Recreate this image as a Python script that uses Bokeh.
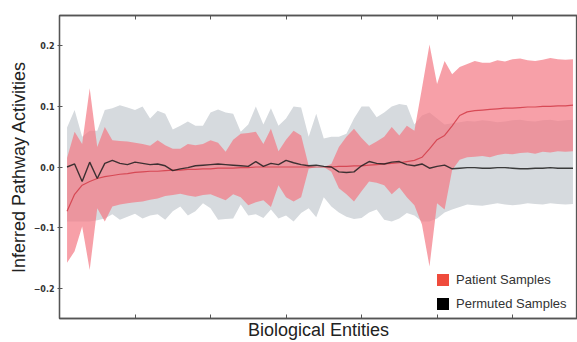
from bokeh.plotting import figure
from bokeh.models import Range1d, FixedTicker, LinearAxis, Legend, LegendItem
from bokeh.embed import file_html
from bokeh.resources import INLINE

# ---- data ----
entity = list(range(1, 69))

perm_hi = [0.065, 0.094, 0.050, 0.060, 0.060, 0.094, 0.097, 0.102, 0.098, 0.094,
           0.100, 0.080, 0.093, 0.088, 0.062, 0.068, 0.075, 0.068, 0.068, 0.090,
           0.095, 0.090, 0.088, 0.058, 0.070, 0.100, 0.070, 0.097, 0.068, 0.080,
           0.100, 0.098, 0.050, 0.088, 0.047, 0.050, 0.050, 0.055, 0.080, 0.100,
           0.100, 0.082, 0.090, 0.100, 0.104, 0.102, 0.070, 0.085, 0.090, 0.080,
           0.070, 0.072, 0.074, 0.076, 0.075, 0.077, 0.076, 0.074, 0.075, 0.077,
           0.078, 0.076, 0.075, 0.077, 0.078, 0.076, 0.077, 0.078]

perm_lo = [-0.090, -0.090, -0.090, -0.090, -0.088, -0.085, -0.078, -0.087, -0.082, -0.077,
           -0.085, -0.080, -0.078, -0.087, -0.073, -0.065, -0.080, -0.073, -0.060, -0.068,
           -0.087, -0.086, -0.085, -0.062, -0.080, -0.078, -0.084, -0.070, -0.085, -0.080,
           -0.090, -0.076, -0.068, -0.083, -0.050, -0.065, -0.075, -0.082, -0.086, -0.084,
           -0.075, -0.070, -0.087, -0.090, -0.085, -0.076, -0.080, -0.090, -0.090, -0.085,
           -0.075, -0.070, -0.066, -0.062, -0.063, -0.064, -0.062, -0.060, -0.062, -0.063,
           -0.062, -0.060, -0.061, -0.062, -0.060, -0.061, -0.062, -0.061]

perm_mean = [0.000, 0.005, -0.024, 0.008, -0.019, 0.006, 0.011, 0.006, 0.004, 0.008,
             0.006, 0.004, 0.005, 0.002, -0.006, -0.003, -0.001, 0.002, 0.003, 0.004,
             0.005, 0.004, 0.003, 0.002, 0.001, 0.009, 0.001, 0.006, 0.004, 0.011,
             0.007, 0.004, 0.002, 0.003, 0.001, 0.000, -0.008, -0.009, -0.008, 0.002,
             0.009, 0.006, 0.005, 0.008, 0.009, 0.004, 0.002, 0.005, -0.002, 0.001,
             0.003, -0.003, -0.002, -0.001, -0.001, -0.002, -0.002, -0.001, -0.001, -0.002,
             -0.003, -0.003, -0.002, -0.002, -0.001, -0.002, -0.002, -0.002]

pat_hi = [0.015, 0.058, 0.038, 0.130, 0.033, 0.066, 0.044, 0.043, 0.042, 0.040,
          0.038, 0.035, 0.044, 0.036, 0.030, 0.030, 0.038, 0.036, 0.038, 0.044,
          0.040, 0.025, 0.045, 0.055, 0.056, 0.058, 0.038, 0.063, 0.026, 0.045,
          0.060, 0.052, 0.002, 0.000, 0.000, 0.005, 0.033, 0.050, 0.063, 0.048,
          0.035, 0.042, 0.050, 0.066, 0.052, 0.068, 0.060, 0.130, 0.202, 0.137,
          0.175, 0.153, 0.165, 0.170, 0.175, 0.172, 0.172, 0.176, 0.174, 0.178,
          0.179, 0.176, 0.175, 0.177, 0.180, 0.178, 0.177, 0.178]

pat_lo = [-0.158, -0.139, -0.098, -0.170, -0.068, -0.090, -0.065, -0.062, -0.060, -0.058,
          -0.057, -0.054, -0.052, -0.048, -0.046, -0.044, -0.047, -0.049, -0.046, -0.045,
          -0.050, -0.055, -0.045, -0.050, -0.063, -0.058, -0.055, -0.066, -0.030, -0.050,
          -0.057, -0.050, -0.003, 0.000, 0.000, -0.008, -0.035, -0.045, -0.057, -0.040,
          -0.024, -0.026, -0.030, -0.045, -0.034, -0.050, -0.063, -0.095, -0.164, -0.060,
          -0.070, -0.005, 0.012, 0.016, 0.017, 0.018, 0.016, 0.020, 0.022, 0.021,
          0.023, 0.024, 0.022, 0.025, 0.024, 0.026, 0.025, 0.026]

pat_mean = [-0.073, -0.045, -0.030, -0.024, -0.019, -0.016, -0.014, -0.012, -0.011, -0.009,
            -0.008, -0.007, -0.007, -0.006, -0.005, -0.005, -0.004, -0.004, -0.003, -0.003,
            -0.002, -0.002, -0.002, -0.001, -0.001, 0.000, 0.000, 0.000, 0.000, 0.000,
            0.000, 0.000, 0.000, 0.000, 0.000, 0.000, 0.001, 0.001, 0.002, 0.002,
            0.003, 0.004, 0.005, 0.006, 0.007, 0.009, 0.011, 0.016, 0.030, 0.045,
            0.052, 0.068, 0.085, 0.091, 0.093, 0.094, 0.095, 0.096, 0.097, 0.097,
            0.098, 0.099, 0.099, 0.100, 0.100, 0.101, 0.101, 0.102]

x_ticks = [0, 10, 20, 30, 40, 50, 60]
y_ticks = [-0.2, -0.1, 0.0, 0.1, 0.2]
y_tick_labels = ["\u22120.2", "\u22120.1", "0.0", "0.1", "0.2"]
legend_labels = ["Patient Samples", "Permuted Samples"]

# ---- figure ----
p = figure(width=577, height=342, x_range=Range1d(0, 68.6), y_range=Range1d(-0.25, 0.25),
           output_backend="svg", toolbar_location=None,
           min_border_left=59, min_border_right=0, min_border_top=15, min_border_bottom=21)
p.background_fill_color = "white"
p.border_fill_color = "white"
p.xgrid.visible = False
p.ygrid.visible = False
p.outline_line_color = "#555555"
p.outline_line_width = 1.3

SPINE = "#555555"

xa = p.xaxis[0]
xa.ticker = FixedTicker(ticks=x_ticks)
xa.major_label_text_font_size = "1px"
xa.major_label_text_color = None
xa.major_label_standoff = 0
xa.major_tick_in = 4
xa.major_tick_out = 0
xa.minor_tick_line_color = None
xa.axis_line_color = SPINE
xa.axis_line_width = 1.3
xa.major_tick_line_color = SPINE
xa.axis_label = "Biological Entities"
xa.axis_label_text_font = "Liberation Sans"
xa.axis_label_text_font_size = "18px"
xa.axis_label_text_font_style = "normal"
xa.axis_label_text_color = "#222222"
xa.axis_label_standoff = 1

ya = p.yaxis[0]
ya.ticker = FixedTicker(ticks=y_ticks)
ya.major_label_overrides = {t: l for t, l in zip(y_ticks, y_tick_labels)}
ya.major_label_text_font = "DejaVu Sans"
ya.major_label_text_font_size = "8px"
ya.major_label_text_font_style = "bold"
ya.major_label_text_color = "#333333"
ya.major_label_standoff = 3
ya.major_tick_in = 3
ya.major_tick_out = 2
ya.minor_tick_line_color = None
ya.axis_line_color = SPINE
ya.axis_line_width = 1.3
ya.major_tick_line_color = SPINE
ya.axis_label = "Inferred Pathway Activities"
ya.axis_label_text_font = "Liberation Sans"
ya.axis_label_text_font_size = "18px"
ya.axis_label_text_font_style = "normal"
ya.axis_label_text_color = "#222222"
ya.axis_label_standoff = 2

top = LinearAxis(ticker=FixedTicker(ticks=x_ticks), major_label_text_font_size="1px",
                 major_label_text_color=None,
                 major_label_standoff=0, major_tick_in=4, major_tick_out=0,
                 minor_tick_line_color=None, axis_line_color=SPINE, axis_line_width=1.3,
                 major_tick_line_color=SPINE)
p.add_layout(top, "above")

# ---- bands and lines ----
gray_band = p.varea(x=entity, y1=perm_lo, y2=perm_hi, fill_color="#d6dade", fill_alpha=1.0)
red_band = p.varea(x=entity, y1=pat_lo, y2=pat_hi, fill_color="#f47783", fill_alpha=0.7)
p.line(entity, pat_mean, line_color="#d4404c", line_width=1.2, line_alpha=0.9)
p.line(entity, perm_mean, line_color="#1e1e1e", line_width=1.4, line_alpha=0.85)

# legend swatches: zero-height areas along each series' mean (invisible in the plot)
leg_red = p.varea(x=entity, y1=pat_mean, y2=pat_mean, fill_color="#ef4b3c", fill_alpha=1.0)
leg_black = p.varea(x=entity, y1=perm_mean, y2=perm_mean, fill_color="#000000", fill_alpha=1.0)

legend = Legend(items=[LegendItem(label=legend_labels[0], renderers=[leg_red]),
                       LegendItem(label=legend_labels[1], renderers=[leg_black])],
                location=(376, 7), padding=0, margin=0, spacing=9,
                glyph_width=15, glyph_height=15, label_height=15, label_standoff=6,
                label_text_font="Liberation Sans", label_text_font_size="13px",
                label_text_color="#333333",
                background_fill_alpha=0, border_line_alpha=0)
p.add_layout(legend, "center")

open("out.html", "w").write(file_html(p, INLINE))
